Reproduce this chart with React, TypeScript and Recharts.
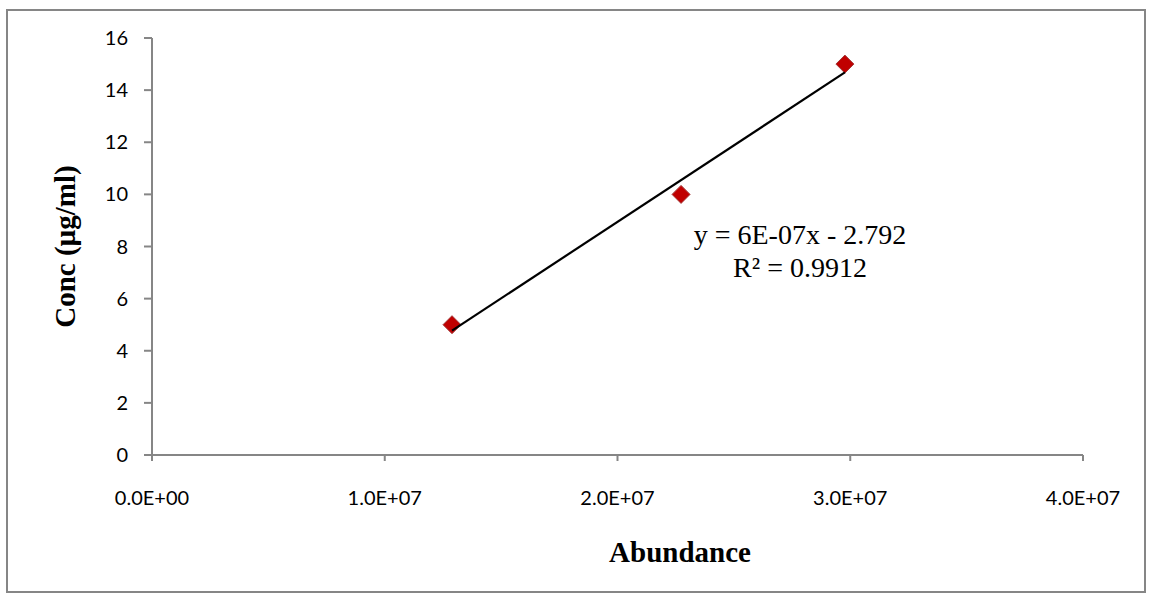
import { ScatterChart, Scatter, XAxis, YAxis, Label } from "recharts";

const abundance = [1.289e7, 2.273e7, 2.977e7];
const conc = [5, 10, 15];
const xTicks = [0, 1e7, 2e7, 3e7, 4e7];
const yTicks = [0, 2, 4, 6, 8, 10, 12, 14, 16];

const points = abundance.map((x, i) => ({ x, y: conc[i] }));

// least squares fit, like the Excel linear trendline
const n = points.length;
const mx = abundance.reduce((s, v) => s + v, 0) / n;
const my = conc.reduce((s, v) => s + v, 0) / n;
const sxy = points.reduce((s, p) => s + (p.x - mx) * (p.y - my), 0);
const sxx = points.reduce((s, p) => s + (p.x - mx) ** 2, 0);
const slope = sxy / sxx;
const intercept = my - slope * mx;
const xMin = Math.min(...abundance);
const xMax = Math.max(...abundance);
const trend = [
  { x: xMin, y: slope * xMin + intercept },
  { x: xMax, y: slope * xMax + intercept },
];

const GRAY = "#868686";
const tickFont = { fontFamily: "Lato, sans-serif", fontSize: 20, fill: "#000" };
const titleFont = { fontFamily: "'Liberation Serif', serif", fontSize: 29, fontWeight: "bold", fill: "#000" };

function sci(v: number) {
  if (v === 0) return "0.0E+00";
  const e = Math.floor(Math.log10(v));
  const m = v / 10 ** e;
  return `${m.toFixed(1)}E+${String(e).padStart(2, "0")}`;
}

function Diamond(props: any) {
  const { cx, cy } = props;
  const r = 9;
  return (
    <polygon
      points={`${cx},${cy - r} ${cx + r},${cy} ${cx},${cy + r} ${cx - r},${cy}`}
      fill="#C00000"
      stroke="#A33A3A"
      strokeWidth={1}
    />
  );
}

export default function App() {
  return (
    <div style={{ position: "absolute", left: 0, top: 0, width: 1151, height: 599, background: "#fff" }}>
      <div
        style={{
          position: "absolute",
          left: 6,
          top: 9,
          width: 1136,
          height: 580,
          border: `2px solid ${GRAY}`,
        }}
      />
      <ScatterChart width={1151} height={599} margin={{ top: 38, right: 68, bottom: 0, left: 0 }}>
        <XAxis
          type="number"
          dataKey="x"
          domain={[0, 4e7]}
          ticks={xTicks}
          tickFormatter={sci}
          height={144}
          stroke={GRAY}
          strokeWidth={2}
          tickSize={6}
          tickMargin={30}
          tick={tickFont}
        >
          <Label
            content={({ viewBox }: any) => (
              <text x={680} y={viewBox.y + 107} textAnchor="middle" style={titleFont}>
                Abundance
              </text>
            )}
          />
        </XAxis>
        <YAxis
          type="number"
          dataKey="y"
          domain={[0, 16]}
          ticks={yTicks}
          width={152}
          stroke={GRAY}
          strokeWidth={2}
          tickSize={8}
          tickMargin={16}
          tick={tickFont}
        >
          <Label
            content={({ viewBox }: any) => {
              const cx = 65;
              const cy = viewBox.y + viewBox.height / 2;
              return (
                <text
                  x={cx}
                  y={cy}
                  transform={`rotate(-90 ${cx} ${cy})`}
                  textAnchor="middle"
                  dominantBaseline="central"
                  style={titleFont}
                >
                  Conc (µg/ml)
                </text>
              );
            }}
          />
        </YAxis>
        <Scatter data={points} shape={<Diamond />} isAnimationActive={false} />
        <Scatter
          data={trend}
          line={{ stroke: "#000", strokeWidth: 2.2 }}
          lineType="joint"
          shape={() => <g />}
          isAnimationActive={false}
        />
      </ScatterChart>
      <div
        style={{
          position: "absolute",
          left: 660,
          top: 218,
          width: 280,
          textAlign: "center",
          fontFamily: "'Liberation Serif', serif",
          fontSize: 28,
          lineHeight: "33px",
          color: "#000",
        }}
      >
        <div>y = 6E-07x - 2.792</div>
        <div>R² = 0.9912</div>
      </div>
    </div>
  );
}
